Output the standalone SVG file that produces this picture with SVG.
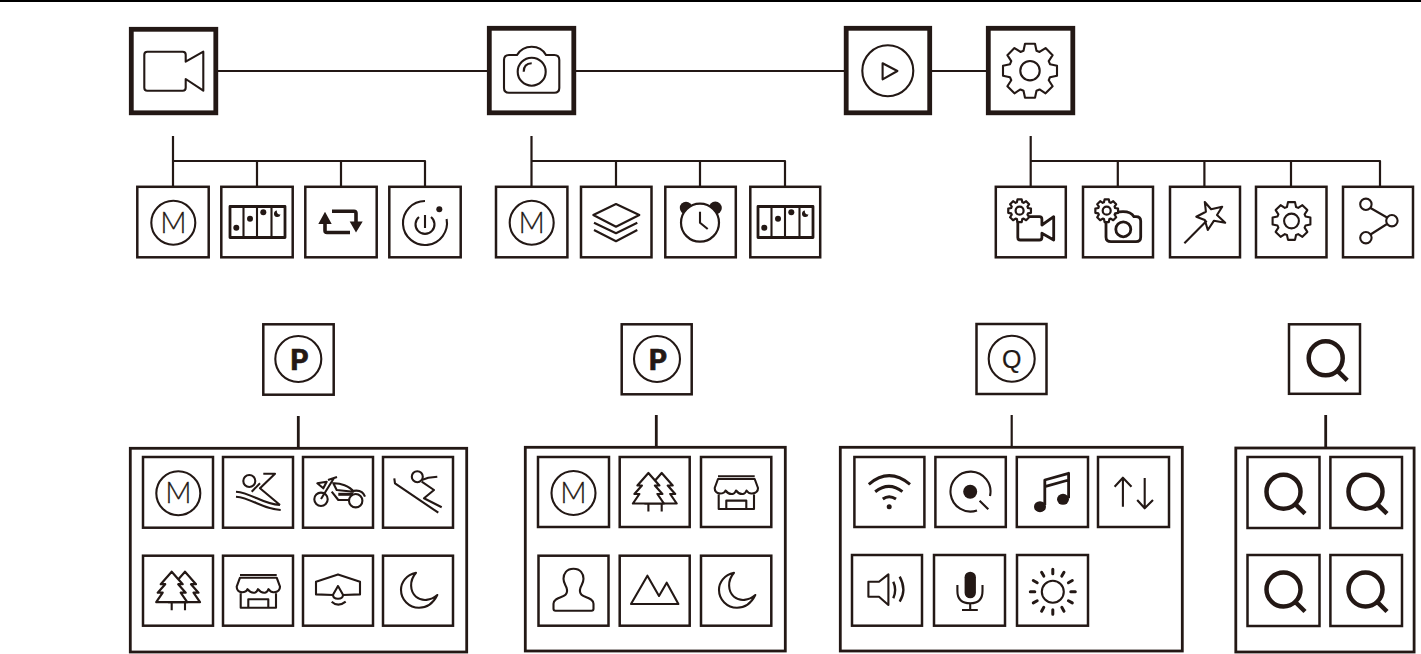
<svg xmlns="http://www.w3.org/2000/svg" width="1421" height="654" viewBox="0 0 1421 654">
<style>
.big{fill:#fff;stroke:#231815;stroke-width:4.800}
.box{fill:#fff;stroke:#231815;stroke-width:2.500}
.wrap{fill:none;stroke:#231815;stroke-width:2.800}
.ln{fill:none;stroke:#231815;stroke-width:2.200;stroke-linejoin:round;stroke-linecap:butt}
.ic{fill:none;stroke:#231815;stroke-width:2.100;stroke-linejoin:round}
.thk{fill:none;stroke:#231815;stroke-width:2.800;stroke-linejoin:round}
.wh{fill:#fff;stroke:#231815;stroke-width:2.200;stroke-linejoin:round}
.sol{fill:#231815;stroke:none}
.lbl{font-family:"Lato","Liberation Sans",sans-serif;font-weight:300;fill:#231815;stroke:#231815;stroke-width:.3;text-anchor:middle}
.p{font-family:"Lato","Liberation Sans",sans-serif;font-weight:900;fill:#231815;stroke:#231815;stroke-width:.7;text-anchor:middle;font-size:29px}
</style>
<defs>
<g id="i-m"><circle class="ic" r="22"/><text class="lbl" x="0" y="10" style="font-size:29px">M</text></g>
<g id="i-sched"><rect class="thk" x="-27" y="-15.500" width="55" height="31"/><path class="ic" d="M-13.500-15.500V15.500M0-15.500V15.500M14.500-15.500V15.500"/><circle class="sol" cx="-20.700" cy="5.700" r="3"/><circle class="sol" cx="-7" cy="-3.300" r="3"/><circle class="sol" cx="6.300" cy="-9.700" r="3"/><path class="sol" d="M20-11.500a3.300 3.300 0 1 0 3.500 4a3 3 0 0 1-3.500-4z"/></g>
<path id="gear" vector-effect="non-scaling-stroke" d="M-6.500-20L-5-27L5-27L6.500-20L9.550-18.740L15.560-22.630L22.630-15.560L18.740-9.550L20-6.500L27-5L27 5L20 6.500L18.740 9.550L22.630 15.560L15.560 22.630L9.550 18.740L6.500 20L5 27L-5 27L-6.500 20L-9.550 18.740L-15.560 22.630L-22.630 15.560L-18.740 9.550L-20 6.500L-27 5L-27-5L-20-6.500L-18.740-9.550L-22.630-15.560L-15.560-22.630L-9.550-18.740Z"/>
<g id="i-tree"><path class="ic" d="M-6.300 11.500V19.500M7 11.500V19.500"/><path class="wh" d="M7-19L-4-6.500H-.5L-8 2H-3L-9.500 11.500H22L15.500 2H20.500L13-6.500H18Z"/><path class="wh" d="M-6.300-19L-17.300-6.500H-12.800L-20.300 2H-15.300L-21.800 11.500H9.200L2.700 2H7.700L0.200-6.500H4.700Z"/></g>
<g id="i-shop"><path class="ic" d="M-18-15.700H18.700M-18-13L-21.300-4Q-21.300 1-16 1.500Q-11.500 1.500-10.500-1.500Q-7.500 2.500-3.500 2Q-1 1.500 0-1.500Q3 2.500 7 2Q9.500 1.500 10.500-1.500Q13 2 16 1.500Q22 1 22-4L18.700-13ZM-17.300 2.600V17H18V2.600M-9.700 17V8.600H10.300V17"/></g>
<path id="i-moon" class="ic" d="M-2-18C-12-16-17-8-17-1C-17 9-9 17 1 17C10 17 16 11 19.300 4.300C13 10 4 11-2 6C-8 1-9-10-2-18Z"/>
<g id="i-q"><circle fill="none" stroke="#231815" stroke-width="4.500" cx="0" cy="0" r="17"/><path fill="none" stroke="#231815" stroke-width="4.500" d="M11.300 12L21.500 22"/></g>
</defs>

<rect x="0" y="0" width="1421" height="2" fill="#000"/>

<g id="connectors" class="ln">
<path class="ln" d="M218 71H487M576 71H844M932 71H987"/>
<path class="ln" d="M173 136V186M173 161H425V186M257 161V186M341 161V186"/>
<path class="ln" d="M531.500 136V186M531.500 161H785V186M616 161V186M700 161V186"/>
<path class="ln" d="M1030.700 136V186M1030.700 161H1380V186M1117.800 161V186M1204.400 161V186M1291 161V186"/>
<path class="ln" style="stroke-width:2.800" d="M298.300 416V447M656.300 415V446M1325.700 415V447"/>
<path class="ln" d="M1011.700 415V446"/>
</g>

<g id="node-video"><rect class="big" x="131.300" y="29.300" width="84.500" height="83.500"/><path class="ic" d="M185.700 61.700L203.300 51.700V90.700L185.700 79V87.700Q185.700 90.700 182.700 90.700H147.300Q144.300 90.700 144.300 87.700V54.700Q144.300 51.700 147.300 51.700H182.700Q185.700 51.700 185.700 54.700Z"/></g>
<g id="node-camera"><rect class="big" x="489.300" y="28.300" width="84.500" height="84.500"/><path class="ic" d="M504 60Q504 55 509 55H517Q522 46.700 531.700 46.700Q541.500 46.700 546 55H554.300Q559.300 55 559.300 60V88Q559.300 92.700 554.300 92.700H509Q504 92.700 504 88Z"/><circle class="ic" cx="531.700" cy="71.700" r="14"/><path class="ic" d="M523.700 71.700Q523.700 63.500 531.700 63.300"/></g>
<g id="node-play"><rect class="big" x="846.200" y="28.300" width="83.500" height="84.500"/><circle class="ic" cx="887.800" cy="70.700" r="25.500"/><path class="ic" d="M882.600 63.300L897.400 71L882.600 79.300Z"/></g>
<g id="node-settings"><rect class="big" x="988.300" y="28.300" width="84.500" height="84.500"/><use href="#gear" transform="translate(1030 70.700)" class="ic"/><circle class="ic" cx="1030" cy="70.700" r="9.700"/></g>

<g id="video-m"><rect class="box" x="137.300" y="186.800" width="71.400" height="70.500"/><use href="#i-m" x="173.300" y="222.700"/></g>
<g id="video-timelapse"><rect class="box" x="221.300" y="186.800" width="71.400" height="70.500"/><use href="#i-sched" x="257" y="222"/></g>
<g id="video-loop"><rect class="box" x="305.300" y="186.800" width="71.400" height="70.500"/><path class="sol" d="M325 211.700L318.300 224H331.700ZM349.700 221.500H362.700L356 232.500Z"/><path fill="none" stroke="#231815" stroke-width="3.600" d="M325 222V230.500Q325 232.500 327 232.500H350M332 211.300H354Q356 211.300 356 213.300V223"/></g>
<g id="video-power"><rect class="box" x="389.300" y="186.800" width="71.400" height="70.500"/><path class="ic" d="M425 201A22 22 0 1 0 446.600 219M419 217A9.500 9.500 0 1 0 431 217M425 215V228"/><circle class="sol" cx="439.300" cy="209.300" r="3"/></g>

<g id="photo-m"><rect class="box" x="496" y="186.800" width="71.400" height="70.500"/><use href="#i-m" x="531.700" y="222.700"/></g>
<g id="photo-layers"><rect class="box" x="581" y="186.800" width="70.500" height="70.500"/><path class="ic" d="M616 204L639.300 215L616 226.700L593.300 215ZM594 222.700L616 233.300L637.300 222.700M594 230L616 241.300L637.300 230"/></g>
<g id="photo-timer"><rect class="box" x="665.300" y="186.800" width="70.500" height="70.500"/><circle class="sol" cx="686" cy="208" r="6.200"/><circle class="sol" cx="715.300" cy="208" r="6.500"/><circle class="wh" cx="700" cy="222.700" r="19"/><path class="ic" d="M700 211.700V222.700L707.700 229"/></g>
<g id="photo-timelapse"><rect class="box" x="750.300" y="186.800" width="69.900" height="70.500"/><use href="#i-sched" x="785" y="222"/></g>

<g id="set-video"><rect class="box" x="995.800" y="186.800" width="70" height="70.500"/><path class="thk" d="M1041.900 225L1053.700 216.700V240L1041.900 233.300V237.500Q1041.900 240 1039.400 240H1020.300Q1017.800 240 1017.800 237.500V219.200Q1017.800 216.700 1020.300 216.700H1039.400Q1041.900 216.700 1041.900 219.200Z"/><use href="#gear" transform="translate(1019.600 210.700) scale(.42)" class="wh"/><circle class="wh" cx="1019.600" cy="210.700" r="4"/></g>
<g id="set-photo"><rect class="box" x="1083" y="186.800" width="70" height="70.500"/><path class="thk" d="M1106 222V237Q1106 241.700 1111 241.700H1136Q1140.700 241.700 1140.700 237V221Q1140.700 216.700 1136 216.700H1134Q1131 211.700 1123 211.700Q1115 211.700 1112 216.700"/><circle class="thk" cx="1123.300" cy="229.300" r="7.500"/><use href="#gear" transform="translate(1106.700 210.700) scale(.42)" class="wh"/><circle class="wh" cx="1106.700" cy="210.700" r="4"/></g>
<g id="set-wand"><rect class="box" x="1170" y="186.800" width="70" height="70.500"/><path class="ic" d="M1204.800 202L1211.100 209.300L1222.200 206.700L1217 215L1225.200 222.700L1214 220.700L1207.800 230L1204.800 220L1196.300 216.700L1205.900 211.700Z"/><path class="ic" d="M1184.400 243.300L1206.700 220.700"/></g>
<g id="set-gear"><rect class="box" x="1256" y="186.800" width="70.500" height="70.500"/><use href="#gear" transform="translate(1291.500 221) scale(.7)" class="ic"/><circle class="ic" cx="1291.500" cy="221" r="7.400"/></g>
<g id="set-share"><rect class="box" x="1343" y="186.800" width="70" height="70.500"/><path class="ic" d="M1370.500 208L1387 217.500M1370.500 234.500L1387 224"/><circle class="ic" cx="1365.900" cy="204.300" r="5.700"/><circle class="ic" cx="1391.900" cy="220.700" r="5.700"/><circle class="ic" cx="1365.900" cy="237.700" r="5.700"/></g>

<g id="node-p1"><rect class="box" x="263.300" y="324.300" width="70.400" height="70.400"/><circle class="ic" cx="298.300" cy="359" r="23"/><text class="p" x="299" y="369.500">P</text></g>
<g id="node-p2"><rect class="box" x="621.700" y="324.300" width="70" height="70"/><circle class="ic" cx="657" cy="359" r="23"/><text class="p" x="657.700" y="369.500">P</text></g>
<g id="node-q"><rect class="box" x="976.500" y="324" width="70" height="70"/><circle class="ic" cx="1011.700" cy="358.700" r="23"/><text x="1011.700" y="368" style="font-family:'Liberation Sans',sans-serif;font-size:25px;text-anchor:middle;fill:#231815;stroke:#231815;stroke-width:.2">Q</text></g>
<g id="node-search"><rect class="box" x="1289" y="324.300" width="71" height="69.500"/><use href="#i-q" x="1325.700" y="358.300"/></g>

<rect class="wrap" x="130.300" y="448.300" width="336.400" height="203.700"/>
<rect class="wrap" x="525.300" y="447.300" width="260" height="203.700"/>
<rect class="wrap" x="840.300" y="447.300" width="342" height="203.700"/>
<rect class="wrap" x="1235.800" y="448" width="178.300" height="204"/>

<g id="p1-m"><rect class="box" x="143" y="457" width="70" height="70.700"/><use href="#i-m" x="178.300" y="493.300"/></g>
<g id="p1-jet"><rect class="box" x="223" y="457" width="70" height="70.700"/><circle class="ic" cx="249.300" cy="481" r="6"/><path class="ic" d="M263.300 473.700H275L260 488.300L280 505M260 483.300L251.700 491.700M236 491.700C252 493 262 504 280 505M236 496.700C252 498 262 509 280.700 510"/></g>
<g id="p1-moto"><rect class="box" x="303" y="457" width="70" height="70.700"/><circle class="ic" cx="321" cy="499.300" r="6.700"/><circle class="ic" cx="355.700" cy="500.700" r="6.700"/><path class="ic" d="M321 499L334 478M328 480L337 477M317.300 483.300L326.700 481.700L323.300 488.300ZM333.300 483.300C340 483 350 486 353.300 491.700L336.700 490ZM350 491.700Q362 488 365 496.700M331.700 491.700L338.300 500H350"/><path class="thk" style="stroke-width:3" d="M338.300 494.300H353"/></g>
<g id="p1-ski"><rect class="box" x="383" y="457" width="70" height="70.700"/><circle class="ic" cx="417.300" cy="476.700" r="5.500"/><path class="ic" d="M421.700 480L428.300 477.700L437.300 476.700M421.700 481.700L434 490L424 498.300L441.700 507.300M394.300 478.300L395 483.300L438.300 512.700"/></g>
<g id="p1-tree"><rect class="box" x="143" y="555.700" width="70" height="70"/><use href="#i-tree" x="178" y="590.700"/></g>
<g id="p1-shop"><rect class="box" x="223" y="555.700" width="70" height="70"/><use href="#i-shop" x="258" y="590.700"/></g>
<g id="p1-water"><rect class="box" x="303" y="555.700" width="70" height="70"/><path class="ic" d="M-5 4.300L-22 3.700V-9L0-16.300L22-9V3.700L5 4.300" transform="translate(338 590.700)"/><path class="ic" d="M0-4.700L-5 4Q-5 8 0 8Q5 8 5 4ZM-6.300 11Q0 17 7.700 11" transform="translate(338 590.700)"/></g>
<g id="p1-moon"><rect class="box" x="383" y="555.700" width="70" height="70"/><use href="#i-moon" x="418" y="590.700"/></g>

<g id="p2-m"><rect class="box" x="538" y="457" width="71" height="70"/><use href="#i-m" x="573.500" y="493"/></g>
<g id="p2-tree"><rect class="box" x="619.700" y="457" width="70" height="70"/><use href="#i-tree" x="654.700" y="492"/></g>
<g id="p2-shop"><rect class="box" x="701" y="457" width="70.300" height="70"/><use href="#i-shop" x="736" y="492"/></g>
<g id="p2-person"><rect class="box" x="538.500" y="555.700" width="70" height="70"/><path class="ic" transform="translate(573.500 590.700)" d="M0-22C-7-22-10-17-10-12C-10-8-8-6-7-3C-6 0-7 3-8 4C-11 7-20 7-20 13V18Q-20 20-18 20H18Q20 20 20 18V13C20 7 11 7 8 4C7 3 6 0 7-3C8-6 10-8 10-12C10-17 7-22 0-22Z"/></g>
<g id="p2-mount"><rect class="box" x="619.700" y="555.700" width="70" height="70"/><path class="ic" transform="translate(654.700 590.700)" d="M-23.700 13.300L-7.300-15L4.300 5.300L12-8L23.700 13.300Z"/></g>
<g id="p2-moon"><rect class="box" x="701" y="555.700" width="70.300" height="70"/><use href="#i-moon" x="736" y="590.700"/></g>

<g id="q-wifi"><rect class="box" x="854.400" y="457" width="70" height="70"/><path class="thk" style="stroke-width:3" d="M868.800 484.300Q889 467 910 484.300M875.200 491.700Q889 481 902.400 491.700M882.800 499Q889 494.500 896 499"/><circle class="sol" cx="889.200" cy="506.700" r="2.500"/></g>
<g id="q-rec"><rect class="box" x="935.400" y="457" width="70.400" height="70"/><path class="ic" d="M990 496A20 20 0 1 0 977 510.500M979.600 500.700L988.300 509.300"/><circle class="sol" cx="970.200" cy="491.700" r="7"/></g>
<g id="q-music"><rect class="box" x="1016.800" y="457" width="71.200" height="70"/><ellipse class="sol" cx="1040" cy="506.700" rx="6" ry="5.500"/><ellipse class="sol" cx="1063" cy="499.300" rx="6" ry="5.500"/><path class="thk" d="M1044.800 505V480L1068.600 473.300V498.300M1044.800 486.700L1068.600 480"/></g>
<g id="q-updown"><rect class="box" x="1098" y="457" width="71" height="70"/><path class="ic" d="M1122.900 506.700V478M1114.600 486.700L1122.900 477.700L1131.500 486.700M1144.700 478V508M1137.200 500L1144.700 508.300L1153 500"/></g>
<g id="q-speaker"><rect class="box" x="852" y="555" width="70" height="70.700"/><path class="ic" d="M868.400 581.700H879L888.400 574.300V605L879 596.700H868.400Z"/><path class="thk" style="stroke-width:2.400" d="M893.300 581.700Q897 590 893.300 598.300M899.700 576.700Q907 590 899.700 601.700"/></g>
<g id="q-mic"><rect class="box" x="934" y="555" width="71" height="70.700"/><rect class="sol" x="964.600" y="571.700" width="11.300" height="26.600" rx="5.600"/><path class="ic" d="M957.400 585V591Q957.400 603.300 970.200 603.300Q982.500 603.300 982.500 591V585M970.200 603.300V610M962 610H977.800"/></g>
<g id="q-sun"><rect class="box" x="1017" y="555" width="71" height="70.700"/><circle class="ic" cx="1052.800" cy="591.700" r="11"/><path transform="translate(1052.800 591.700)" fill="none" stroke="#231815" stroke-width="3" stroke-linecap="round" d="M0-18V-22.500M0 18V22.500M18 0H22.500M-18 0H-22.500M9-15.600L11.200-19.500M-9-15.600L-11.200-19.500M9 15.600L11.200 19.500M-9 15.600L-11.200 19.500M15.600-9L19.500-11.200M-15.600-9L-19.500-11.200M15.600 9L19.500 11.200M-15.600 9L-19.500 11.200"/></g>

<g id="s-1"><rect class="box" x="1247.500" y="457" width="72" height="71"/><use href="#i-q" x="1283.500" y="491.700"/></g>
<g id="s-2"><rect class="box" x="1330.400" y="457" width="71.600" height="71"/><use href="#i-q" x="1365.500" y="491.700"/></g>
<g id="s-3"><rect class="box" x="1247.500" y="555" width="72" height="71"/><use href="#i-q" x="1283.500" y="589.500"/></g>
<g id="s-4"><rect class="box" x="1330.400" y="555" width="71.600" height="71"/><use href="#i-q" x="1365.500" y="589.500"/></g>
</svg>
